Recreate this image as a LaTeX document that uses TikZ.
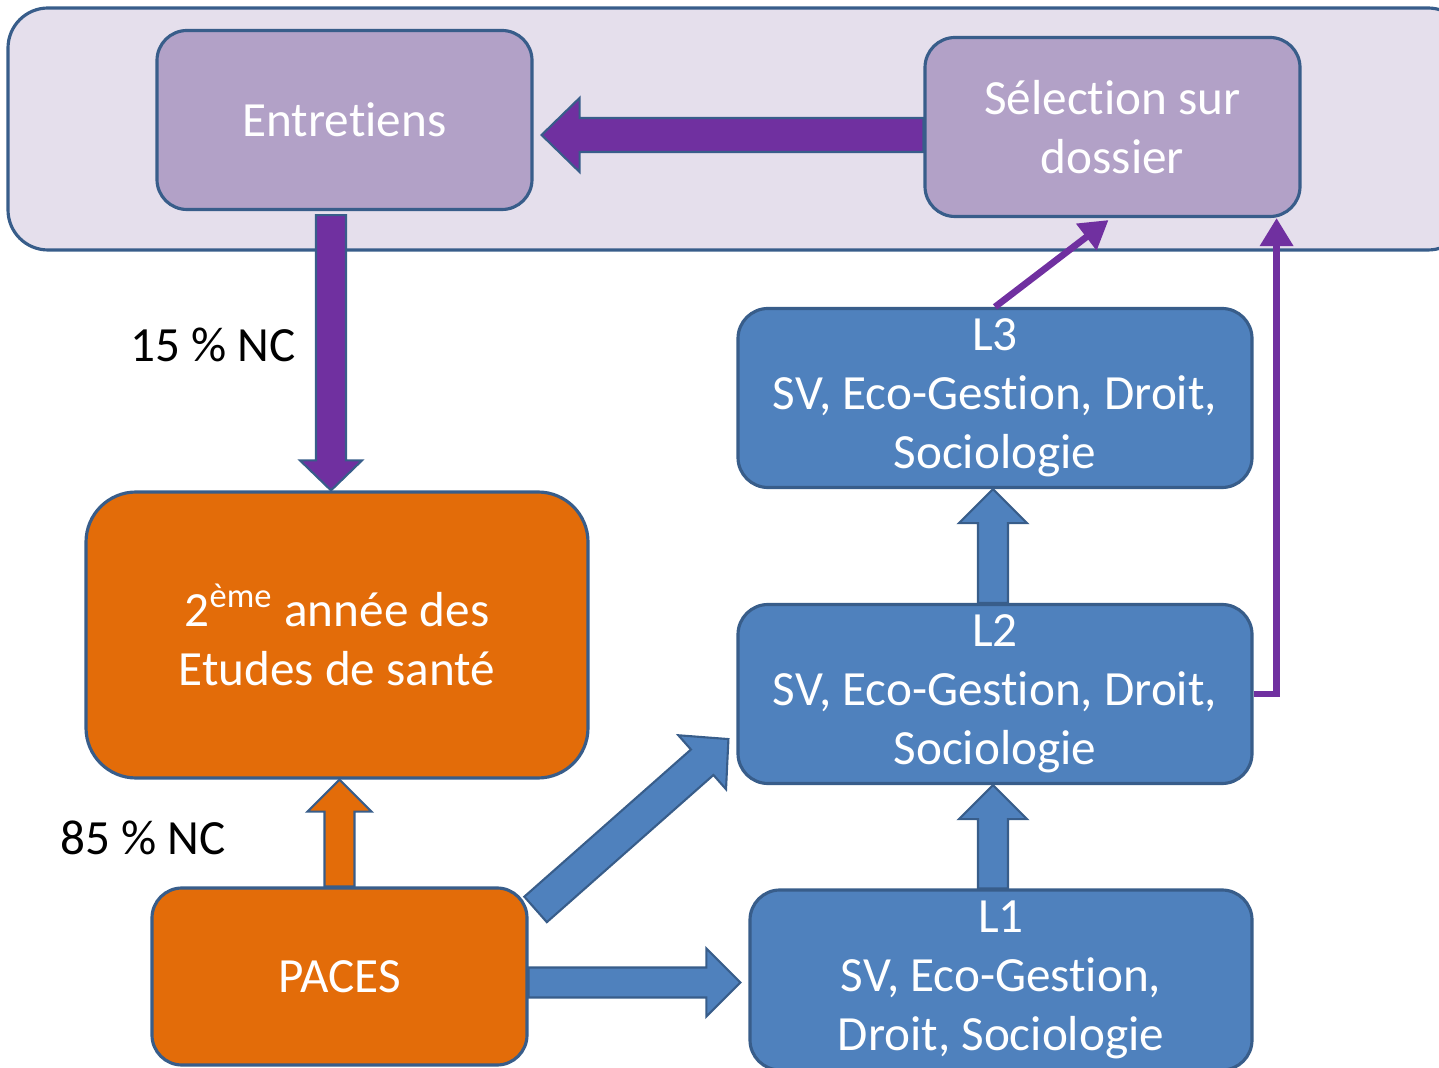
\documentclass[tikz,border=0pt]{standalone}
\usepackage{fontspec}
\setmainfont{Carlito}[Ligatures={NoCommon,NoContextual,NoRequired},Contextuals=NoAlternate]
\usetikzlibrary{positioning,calc,arrows.meta}

\definecolor{lavlight}{HTML}{E5DFEC}
\definecolor{lavbox}{HTML}{B2A1C7}
\definecolor{purp}{HTML}{7030A0}
\definecolor{blu}{HTML}{4F81BD}
\definecolor{bluedge}{HTML}{385D8A}
\definecolor{orng}{HTML}{E36C09}

% block arrow: style, from, to, half shaft, half head, head length
\newcommand{\blockarr}[6]{%
  \coordinate (hb) at ($(#3)!#6!(#2)$);
  \draw[#1] ($(#2)!#4!90:(#3)$) -- ($(hb)!#4!90:(#3)$) -- ($(hb)!#5!90:(#3)$)
    -- (#3) -- ($(hb)!#5!-90:(#3)$) -- ($(hb)!#4!-90:(#3)$) -- ($(#2)!#4!-90:(#3)$) -- cycle;
}

\begin{document}
\begin{tikzpicture}[x=0.1mm,y=-0.1mm,
  box/.style={draw=bluedge, line width=0.9pt, rounded corners=3mm, text=white,
    align=center, inner sep=0pt, font=\fontsize{14}{16.8}\selectfont},
  lavnode/.style={box, fill=lavbox, minimum width=37.5mm, minimum height=17.9mm},
  orgnode/.style={box, fill=orng},
  licnode/.style={box, fill=blu, minimum height=17.9mm},
  lbl/.style={font=\fontsize{14}{16.8}\selectfont, text=black},
  purparr/.style={fill=purp, draw=bluedge, line width=0.6pt},
  bluarr/.style={fill=blu, draw=bluedge, line width=0.6pt},
  orgarr/.style={fill=orng, draw=bluedge, line width=0.6pt},
  thinarr/.style={draw=purp, line width=1.9pt, -{Triangle[length=2.8mm,width=3.2mm]}}]
\useasboundingbox (0,0) rectangle (1439,1068);
\clip (0,0) rectangle (1439,1068);

% top panel
\node[draw=bluedge, line width=0.9pt, fill=lavlight, rounded corners=4mm,
  minimum width=146mm, minimum height=24.2mm] (panel) at (738,129) {};

\node[lavnode] (entr) at (344.5,120) {Entretiens};
\node[lavnode] (sel) at (1112.5,127) {Sélection sur\\dossier};

% left column
\node[orgnode, rounded corners=5mm, minimum width=50.2mm, minimum height=28.6mm] (deux) at (337,635)
  {2\textsuperscript{ème} année des\\Etudes de santé};
\node[orgnode, minimum width=37.5mm, minimum height=17.7mm] (paces) at (339.5,976.5) {PACES};

% licences
\node[licnode, minimum width=51.4mm] (l3) at (995,398) {L3\\SV, Eco-Gestion, Droit,\\Sociologie};
\node[licnode, minimum width=51.4mm] (l2) at (995,694) {L2\\SV, Eco-Gestion, Droit,\\Sociologie};
\node[licnode, minimum width=50.2mm, minimum height=18mm] (l1) at (1001,980) {L1\\SV, Eco-Gestion,\\Droit, Sociologie};

\node[lbl] (nc15) at (213,345) {15 \% NC};
\node[lbl] (nc85) at (143,838) {85 \% NC};

% block arrows
\coordinate (sfrom) at ($(sel.west)+(0,8)$);
\coordinate (sto) at ($(sfrom -| entr.east)+(8,0)$);
\blockarr{purparr}{sfrom}{sto}{1.7mm}{3.7mm}{3.8mm}

\coordinate (efrom) at ($(entr.south -| deux.north)+(-6,4)$);
\coordinate (eto) at ($(deux.north)+(-6,0)$);
\blockarr{purparr}{efrom}{eto}{1.5mm}{3.1mm}{3.0mm}

\coordinate (pto) at (paces.north |- deux.south);
\blockarr{orgarr}{paces.north}{pto}{1.5mm}{3.2mm}{3.2mm}

\coordinate (hfrom) at ($(paces.east)+(0,6)$);
\coordinate (hto) at ($(hfrom -| l1.west)+(-8,0)$);
\blockarr{bluarr}{hfrom}{hto}{1.5mm}{3.4mm}{3.4mm}

\coordinate (dfrom) at ($(paces.north east)+(7,23)$);
\coordinate (dto) at ($(l2.south west)+(-8,-46)$);
\blockarr{bluarr}{dfrom}{dto}{1.7mm}{3.6mm}{3.5mm}

\coordinate (u1from) at ($(l1.north -| l2.south)+(-2,0)$);
\coordinate (u1to) at ($(l2.south)+(-2,0)$);
\blockarr{bluarr}{u1from}{u1to}{1.5mm}{3.4mm}{3.4mm}

\coordinate (u2from) at ($(l2.north)+(-2,0)$);
\coordinate (u2to) at ($(l3.south)+(-2,0)$);
\blockarr{bluarr}{u2from}{u2to}{1.5mm}{3.4mm}{3.4mm}

% thin arrows to the selection
\draw[thinarr] (l3.north) -- ($(sel.south)+(-4,2)$);
\draw[thinarr] (l2.east) -- ++(23,0) coordinate (kink) -- (kink |- sel.south);
\end{tikzpicture}
\end{document}
